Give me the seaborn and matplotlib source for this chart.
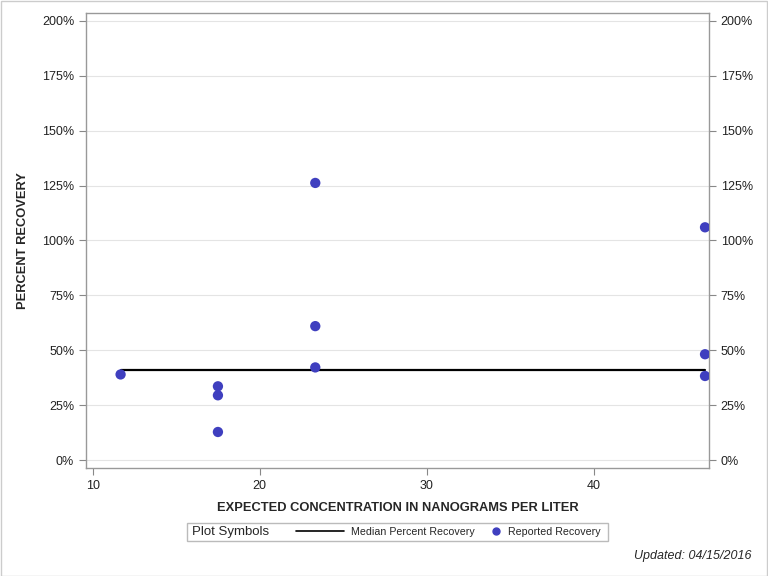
import matplotlib
matplotlib.use("Agg")
from matplotlib import pyplot as plt
from matplotlib.lines import Line2D
from matplotlib.patches import Rectangle
from matplotlib.ticker import FuncFormatter
import seaborn as sns
import pandas as pd

sns.set_style("white")
plt.rcParams['font.family'] = ['Liberation Sans', 'DejaVu Sans']

# reported recovery points
expected = [11.67, 17.5, 17.5, 17.5, 23.33, 23.33, 23.33, 46.67, 46.67, 46.67]
recovery = [39.0, 33.6, 29.5, 12.8, 126.2, 61.0, 42.2, 106.0, 48.2, 38.3]
# median line
median_x = [11.67, 46.67]
median_y = [41.0, 41.0]

df = pd.DataFrame({'x': expected, 'y': recovery})
med = pd.DataFrame({'x': median_x, 'y': median_y})

fig = plt.figure(figsize=(7.68, 5.76), dpi=100)
ax = fig.add_axes([0.112, 0.1875, 0.811, 0.79])

for yv in range(0, 201, 25):
    ax.axhline(yv, color='#e4e4e4', lw=0.8, zorder=0)

sns.lineplot(data=med, x='x', y='y', color='black', lw=1.6, ax=ax, zorder=2)
sns.scatterplot(data=df, x='x', y='y', color='#3f3fbf', s=55, edgecolor='none',
                ax=ax, zorder=3)

ax.set_xlim(9.6, 46.9)
ax.set_ylim(-3.6, 203.6)
ax.set_xticks([10, 20, 30, 40])
ax.set_yticks(range(0, 201, 25))
pct = FuncFormatter(lambda v, p: f'{int(v)}%')
ax.yaxis.set_major_formatter(pct)
ax.tick_params(axis='both', direction='out', length=5, width=0.8, color='#888888',
               labelsize=9, labelcolor='#222222')
ax.tick_params(axis='y', right=True, labelright=True, left=True)
ax.tick_params(axis='x', bottom=True)
for s in ax.spines.values():
    s.set_color('#999999')
    s.set_linewidth(1)

ax.set_xlabel('EXPECTED CONCENTRATION IN NANOGRAMS PER LITER', fontsize=9.25,
              fontweight='bold', labelpad=7)
ax.set_ylabel('PERCENT RECOVERY', fontsize=9.25, fontweight='bold', labelpad=9)

# legend box
fig.patches.append(Rectangle((187 / 768, 1 - 541 / 576), 421 / 768, 18 / 576,
                             transform=fig.transFigure, fill=False,
                             edgecolor='#bbbbbb', lw=1))
fig.text(192 / 768, 1 - 532 / 576, 'Plot Symbols', fontsize=9.5, va='center')
fig.legend([Line2D([], [], color='black', lw=1.2)], ['Median Percent Recovery'],
           loc='center left', bbox_to_anchor=(296 / 768, 1 - 532 / 576),
           frameon=False, fontsize=7.7, handlelength=4.5,
           handletextpad=0.6, borderpad=0, borderaxespad=0)
fig.legend([Line2D([], [], marker='o', color='#3f3fbf', ls='none', markersize=5)],
           ['Reported Recovery'],
           loc='center left', bbox_to_anchor=(491 / 768, 1 - 532 / 576),
           frameon=False, fontsize=7.7, handlelength=1.0,
           handletextpad=0.6, borderpad=0, borderaxespad=0)

fig.text(752 / 768, 1 - 556 / 576, 'Updated: 04/15/2016', fontsize=9,
         style='italic', ha='right', va='center')

fig.patches.append(Rectangle((0.5 / 768, 0.5 / 576), 766.5 / 768, 574.5 / 576,
                             transform=fig.transFigure, fill=False,
                             edgecolor='#cccccc', lw=1))

plt.savefig('out.png', dpi=100)
